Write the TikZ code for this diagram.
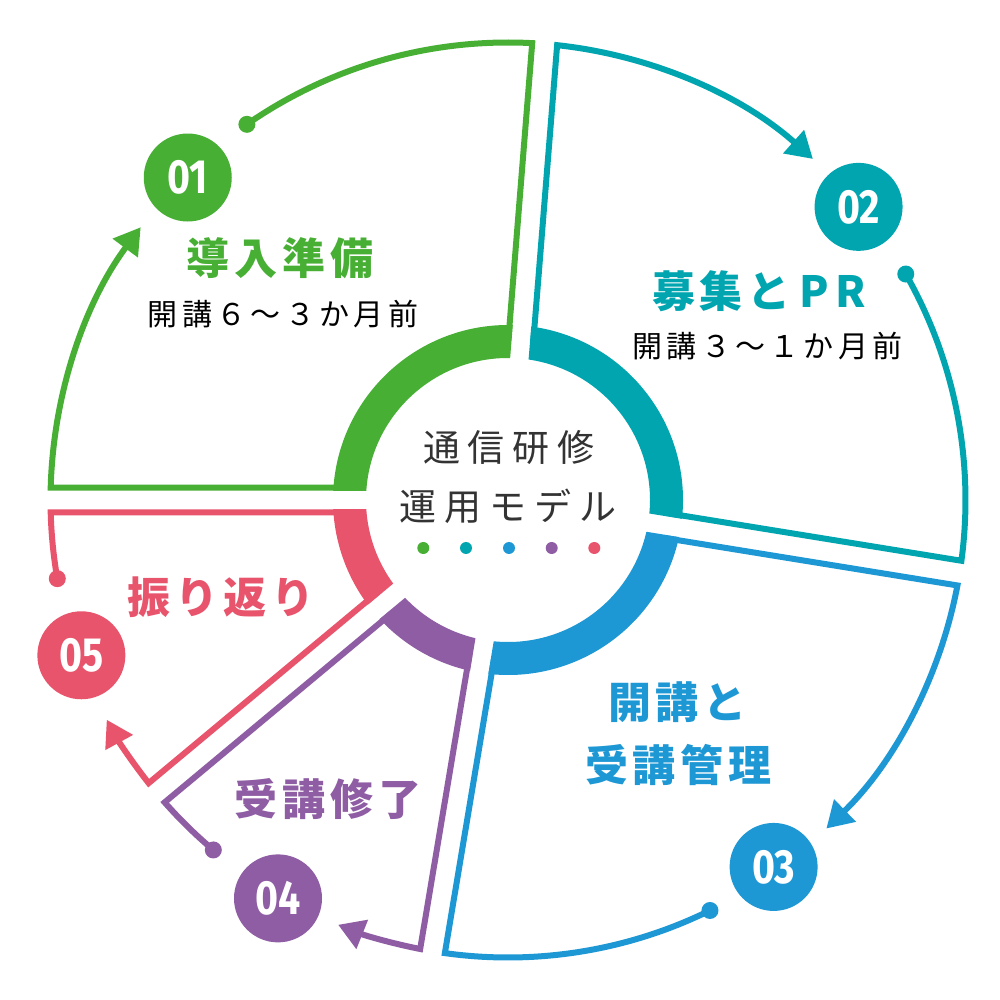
\documentclass[tikz,border=0pt]{standalone}
\usepackage{fontspec}
\usetikzlibrary{arrows.meta}
\newfontfamily\jpfont{Noto Sans CJK JP}
\newfontfamily\numfont{Fira Sans}[FakeStretch=0.82]
\definecolor{cg}{HTML}{48AF35}
\definecolor{ct}{HTML}{00A5B0}
\definecolor{cb}{HTML}{1E98D4}
\definecolor{cp}{HTML}{8F5DA4}
\definecolor{cr}{HTML}{E8546C}
\definecolor{ctext}{HTML}{333333}
\makeatletter
\newcommand\spacedtext[2]{\def\st@k{#1}\let\st@sep\relax\@tfor\st@c:=#2\do{\st@sep\st@c\def\st@sep{\kern\st@k}}}
\makeatother
\tikzset{
  outl/.style={draw=#1, line width=6pt, line join=miter, miter limit=10},
  badge/.style={circle, minimum size=88pt, inner sep=0pt, text=white,
    font={\numfont\bfseries\fontsize{48pt}{48pt}\selectfont}},
  title/.style={inner sep=0pt, font={\jpfont\bfseries\fontsize{43pt}{43pt}\selectfont}},
  subt/.style={inner sep=0pt, text=black, font={\jpfont\fontsize{30pt}{30pt}\selectfont}},
  ctr/.style={inner sep=0pt, text=ctext, font={\jpfont\fontsize{37pt}{37pt}\selectfont}},
}
% #1 colour, #2 start angle, #3 end angle, #4 badge angle, #5 badge dist,
% #6 arrow tip angle, #7 dot angle, #8 number, #9 name
\newcommand\drawsector[9]{%
  \pgfmathsetmacro\myHiR{#2-asin(12.5/457.5)}%
  \pgfmathsetmacro\myHiL{#2-asin(12.5/160)}%
  \pgfmathsetmacro\myLoR{#3+asin(12.5/457.5)}%
  \pgfmathsetmacro\myLoL{#3+asin(12.5/160)}%
  \pgfmathsetmacro\myHiO{#2-asin(9.25/175)}%
  \pgfmathsetmacro\myHiI{#2-asin(9.25/142)}%
  \pgfmathsetmacro\myLoO{#3+asin(9.25/175)}%
  \pgfmathsetmacro\myLoI{#3+asin(9.25/142)}%
  \coordinate (#9tip) at (#6:457.5);
  \coordinate (#9dot) at (#7:457.5);
  \draw[outl=#1, -{Triangle[length=26pt,width=30pt]}] (\myHiL:160) -- (\myHiR:457.5)
     arc[start angle=\myHiR, end angle=#6, radius=457.5];
  \draw[outl=#1] (#9dot) arc[start angle=#7, end angle=\myLoR, radius=457.5] -- (\myLoL:160);
  \fill[#1] (#9dot) circle[radius=8.5];
  \fill[#1] (\myHiO:175) arc[start angle=\myHiO, end angle=\myLoO, radius=175]
     -- (\myLoI:142) arc[start angle=\myLoI, end angle=\myHiI, radius=142] -- cycle;
  \node[badge, fill=#1] (#9) at (#4:#5) {#8};
}
\begin{document}
\begin{tikzpicture}[x=1pt,y=1pt]
\useasboundingbox[fill=white] (-508,-500) rectangle (492,500);
\drawsector{cg}{180}{85.4}{134.8}{454.5}{143.4}{124.8}{01}{b1}
\drawsector{ct}{85.4}{-9.2}{39.9}{457}{48.2}{29.6}{02}{b2}
\drawsector{cb}{-9.2}{-99.5}{-54.1}{453}{-45.9}{-63.8}{03}{b3}
\drawsector{cp}{-99.5}{-140.2}{-120}{460}{-111.8}{-130.1}{04}{b4}
\drawsector{cr}{-140.2}{-180}{-160}{454}{-151.3}{-170.1}{05}{b5}
% centre
\node[ctr] (c1) at (1,53) {\spacedtext{8pt}{通信研修}};
\node[ctr] (c2) at (0.3,-6.7) {\spacedtext{8pt}{運用モデル}};
\fill[cg] (-84.7,-48) circle[radius=6];
\fill[ct] (-42,-48) circle[radius=6];
\fill[cb] (1,-48) circle[radius=6];
\fill[cp] (43.7,-48) circle[radius=6];
\fill[cr] (86.3,-48) circle[radius=6];
% titles
\node[title, text=cg] (t1) at (-228,242) {\spacedtext{5pt}{導入準備}};
\node[subt] (s1) at (-225,186) {\spacedtext{4.3pt}{開講６～３か月前}};
\node[title, text=ct] (t2) at (251,208.5) {\spacedtext{5pt}{募集と}\kern9pt\spacedtext{6pt}{PR}};
\node[subt] (s2) at (259.5,154) {\spacedtext{4.3pt}{開講３～１か月前}};
\node[title, text=cb] (t3a) at (169.5,-202.5) {\spacedtext{5pt}{開講と}};
\node[title, text=cb] (t3b) at (170.5,-265) {\spacedtext{5pt}{受講管理}};
\node[title, text=cp] (t4) at (-179.5,-299) {\spacedtext{5pt}{受講修了}};
\node[title, text=cr] (t5) at (-287,-97) {\spacedtext{5pt}{振り返り}};
\end{tikzpicture}
\end{document}
